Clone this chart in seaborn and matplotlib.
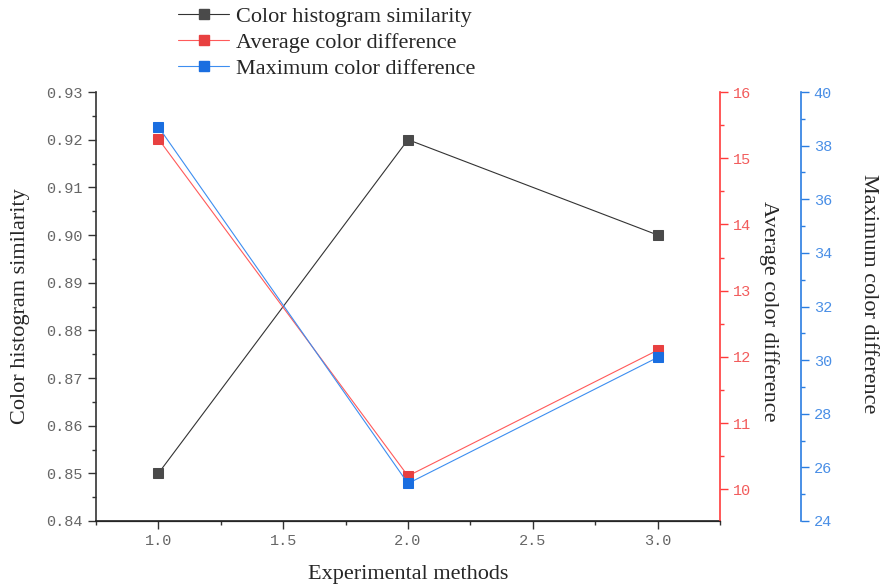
import matplotlib
matplotlib.use("Agg")
import matplotlib.pyplot as plt
from matplotlib.ticker import MultipleLocator, FormatStrFormatter
from matplotlib.lines import Line2D
import seaborn as sns
import pandas as pd

methods = [1.0, 2.0, 3.0]
hist_similarity = [0.85, 0.92, 0.90]
avg_color_diff = [15.29, 10.20, 12.10]
max_color_diff = [38.7, 25.4, 30.1]

sns.set_style("ticks")
plt.rcParams['font.family'] = ['Liberation Serif', 'DejaVu Serif']

df = pd.DataFrame({"x": methods, "hist": hist_similarity,
                   "avg": avg_color_diff, "max": max_color_diff})

fig = plt.figure(figsize=(8.83, 5.88), dpi=100)
ax = fig.add_axes([96/883, 1-521/588, (720-96)/883, (521-92)/588])
ax2 = ax.twinx()
ax3 = ax.twinx()
ax3.spines['right'].set_position(('outward', 58))

c_black_line, c_black_mk = '#333333', '#4a4a4a'
c_red_line, c_red_mk = '#ff5a5a', '#e84040'
c_blue_line, c_blue_mk = '#3d8ef0', '#1a6ee0'
ms = 7

sns.lineplot(data=df, x="x", y="hist", ax=ax, color=c_black_line, lw=0.8,
             marker='s', markersize=ms, markerfacecolor=c_black_mk,
             markeredgecolor=c_black_mk)
sns.lineplot(data=df, x="x", y="avg", ax=ax2, color=c_red_line, lw=0.8,
             marker='s', markersize=ms, markerfacecolor=c_red_mk,
             markeredgecolor=c_red_mk)
sns.lineplot(data=df, x="x", y="max", ax=ax3, color=c_blue_line, lw=0.8,
             marker='s', markersize=ms, markerfacecolor=c_blue_mk,
             markeredgecolor=c_blue_mk)

ax.set_xlim(0.75, 3.25)
ax.set_ylim(0.84, 0.93)
ax2.set_ylim(9.52, 16)
ax3.set_ylim(24, 40)

tickfont = 'Liberation Mono'
ax.xaxis.set_major_locator(MultipleLocator(0.5))
ax.xaxis.set_minor_locator(MultipleLocator(0.25))
ax.xaxis.set_major_formatter(FormatStrFormatter('%.1f'))
ax.yaxis.set_major_locator(MultipleLocator(0.01))
ax.yaxis.set_minor_locator(MultipleLocator(0.005))
ax.yaxis.set_major_formatter(FormatStrFormatter('%.2f'))
ax2.yaxis.set_major_locator(MultipleLocator(1))
ax2.yaxis.set_minor_locator(MultipleLocator(0.5))
ax3.yaxis.set_major_locator(MultipleLocator(2))
ax3.yaxis.set_minor_locator(MultipleLocator(1))

for a in (ax, ax2, ax3):
    a.spines['top'].set_visible(False)
ax.spines['right'].set_visible(False)
ax2.spines['left'].set_visible(False)
ax3.spines['left'].set_visible(False)

ax.spines['left'].set_color('#333333')
ax.spines['bottom'].set_color('#222222')
ax2.spines['right'].set_color('#ff3b3b')
ax3.spines['right'].set_color('#2a7de1')
for s in (ax.spines['left'], ax.spines['bottom'], ax2.spines['right'], ax3.spines['right']):
    s.set_linewidth(1.2)

ax.tick_params(axis='both', which='major', length=6, width=1.0, color='#333333',
               labelsize=11, labelcolor='#666666', direction='out')
ax.tick_params(axis='both', which='minor', length=3, width=1.0, color='#333333', direction='out')
ax2.tick_params(axis='y', which='major', length=6, width=1.0, color='#ff3b3b',
                labelsize=11, labelcolor='#f25c5c')
ax2.tick_params(axis='y', which='minor', length=3, width=1.0, color='#ff3b3b')
ax3.tick_params(axis='y', which='major', length=6, width=1.0, color='#2a7de1',
                labelsize=11, labelcolor='#4a8fe6')
ax3.tick_params(axis='y', which='minor', length=3, width=1.0, color='#2a7de1')
for a in (ax, ax2, ax3):
    for lbl in a.get_xticklabels() + a.get_yticklabels():
        lbl.set_fontfamily(tickfont)

fs = 16
ax.set_xlabel("Experimental methods", fontsize=fs, labelpad=12)
ax.set_ylabel("Color histogram similarity", fontsize=fs, labelpad=12)
ax2.set_ylabel("Average color difference", fontsize=fs, rotation=270,
               ha='center', va='center')
ax2.yaxis.set_label_coords((769-96)/624, 0.49)
ax3.set_ylabel("Maximum color difference", fontsize=fs, rotation=270,
               ha='center', va='center')
ax3.yaxis.set_label_coords((869-96)/624, 0.53)

handles = [
    Line2D([], [], color=c_black_line, lw=0.8, marker='s', markersize=ms,
           markerfacecolor=c_black_mk, markeredgecolor=c_black_mk),
    Line2D([], [], color=c_red_line, lw=0.8, marker='s', markersize=ms,
           markerfacecolor=c_red_mk, markeredgecolor=c_red_mk),
    Line2D([], [], color=c_blue_line, lw=0.8, marker='s', markersize=ms,
           markerfacecolor=c_blue_mk, markeredgecolor=c_blue_mk),
]
labels = ["Color histogram similarity", "Average color difference", "Maximum color difference"]
fig.legend(handles, labels, loc='upper left', bbox_to_anchor=(165/883, 1.012),
           frameon=False, fontsize=fs, handlelength=2.3, labelspacing=0.24,
           handletextpad=0.3, borderaxespad=0.2)

fig.savefig("out.png", dpi=100)
